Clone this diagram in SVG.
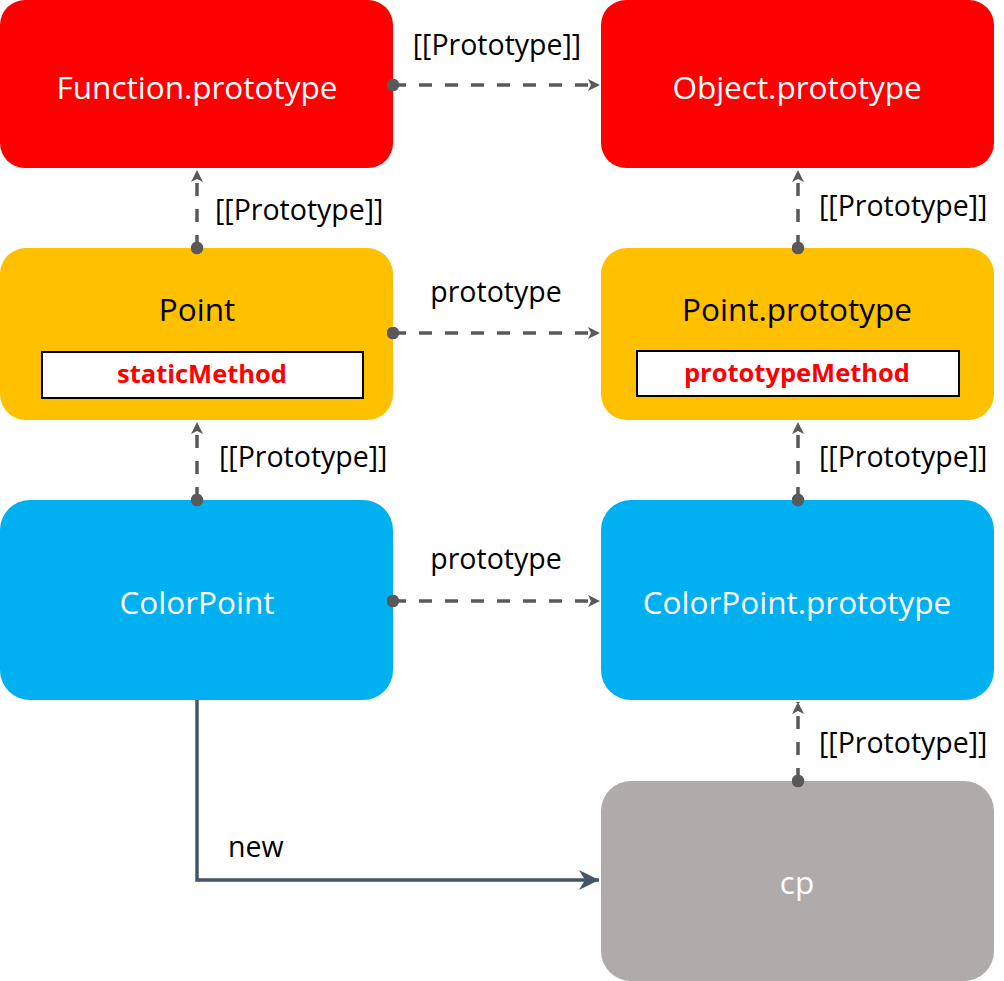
<svg xmlns="http://www.w3.org/2000/svg" width="1004" height="981" viewBox="0 0 1004 981">
<style>
  text { font-family: "Open Sans", "Noto Sans", "DejaVu Sans", sans-serif; }
  .title { font-size: 31.5px; text-anchor: middle; }
  .w { fill: #FFFFFF; }
  .b { fill: #000000; }
  .method { font-size: 25.5px; font-weight: bold; fill: #FF0000; text-anchor: middle; }
  .lbl { font-size: 28.5px; fill: #000000; }
  .dash { stroke: #595959; stroke-width: 3.5; fill: none; stroke-dasharray: 13 13; marker-start: url(#dot); marker-end: url(#arr); }
  .solid { stroke: #44546A; stroke-width: 3.5; fill: none; marker-end: url(#arr2); }
  .box { fill: #FFFFFF; stroke: #000000; stroke-width: 2; }
</style>
<defs>
  <marker id="dot" viewBox="0 0 13 13" refX="6.5" refY="6.5" markerWidth="13" markerHeight="13" markerUnits="userSpaceOnUse" orient="auto">
    <circle cx="6.5" cy="6.5" r="6.3" fill="#595959"/>
  </marker>
  <marker id="arr" viewBox="0 0 12 12" refX="12" refY="6" markerWidth="12" markerHeight="12" markerUnits="userSpaceOnUse" orient="auto">
    <path d="M0,0 L12,6 L0,12 L3,6 Z" fill="#595959"/>
  </marker>
  <marker id="arr2" viewBox="0 0 20 20" refX="20" refY="10" markerWidth="20" markerHeight="20" markerUnits="userSpaceOnUse" orient="auto">
    <path d="M0,0 L20,10 L0,20 L6,10 Z" fill="#44546A"/>
  </marker>
</defs>

<g id="function-prototype">
  <rect x="0" y="0" width="393" height="168" rx="25" fill="#FF0000"/>
  <text class="title w" x="197" y="99">Function.prototype</text>
</g>
<g id="object-prototype">
  <rect x="601" y="0" width="393" height="168" rx="25" fill="#FF0000"/>
  <text class="title w" x="797" y="99">Object.prototype</text>
</g>
<g id="point">
  <rect x="0" y="248" width="393" height="172" rx="26" fill="#FFC000"/>
  <text class="title b" x="197" y="321">Point</text>
  <rect class="box" x="42" y="352" width="321" height="46"/>
  <text class="method" x="202" y="383">staticMethod</text>
</g>
<g id="point-prototype">
  <rect x="601" y="248" width="393" height="172" rx="26" fill="#FFC000"/>
  <text class="title b" x="797" y="321">Point.prototype</text>
  <rect class="box" x="637" y="351" width="322" height="45"/>
  <text class="method" x="797" y="382">prototypeMethod</text>
</g>
<g id="colorpoint">
  <rect x="0" y="500" width="393" height="200" rx="30" fill="#00B0F0"/>
  <text class="title w" x="197" y="614">ColorPoint</text>
</g>
<g id="colorpoint-prototype">
  <rect x="601" y="500" width="393" height="200" rx="30" fill="#00B0F0"/>
  <text class="title w" x="797" y="614">ColorPoint.prototype</text>
</g>
<g id="cp">
  <rect x="601" y="781" width="393" height="200" rx="30" fill="#AFABAB"/>
  <text class="title w" x="797" y="894">cp</text>
</g>

<g id="connectors">
  <path class="dash" d="M393,85 H600"/>
  <path class="dash" d="M197,248 V170"/>
  <path class="dash" d="M798,248 V170"/>
  <path class="dash" d="M393,333 H600"/>
  <path class="dash" d="M197,500 V422"/>
  <path class="dash" d="M798,500 V422"/>
  <path class="dash" d="M393,601 H600"/>
  <path class="dash" d="M798,781 V702"/>
  <path class="solid" d="M197,700 V880 H599"/>
  <text class="lbl" x="497" y="55" text-anchor="middle">[[Prototype]]</text>
  <text class="lbl" x="215" y="220">[[Prototype]]</text>
  <text class="lbl" x="819" y="216">[[Prototype]]</text>
  <text class="lbl" x="496" y="302" text-anchor="middle">prototype</text>
  <text class="lbl" x="219" y="467">[[Prototype]]</text>
  <text class="lbl" x="819" y="467">[[Prototype]]</text>
  <text class="lbl" x="496" y="569" text-anchor="middle">prototype</text>
  <text class="lbl" x="819" y="753">[[Prototype]]</text>
  <text class="lbl" x="228" y="857">new</text>
</g>
</svg>
